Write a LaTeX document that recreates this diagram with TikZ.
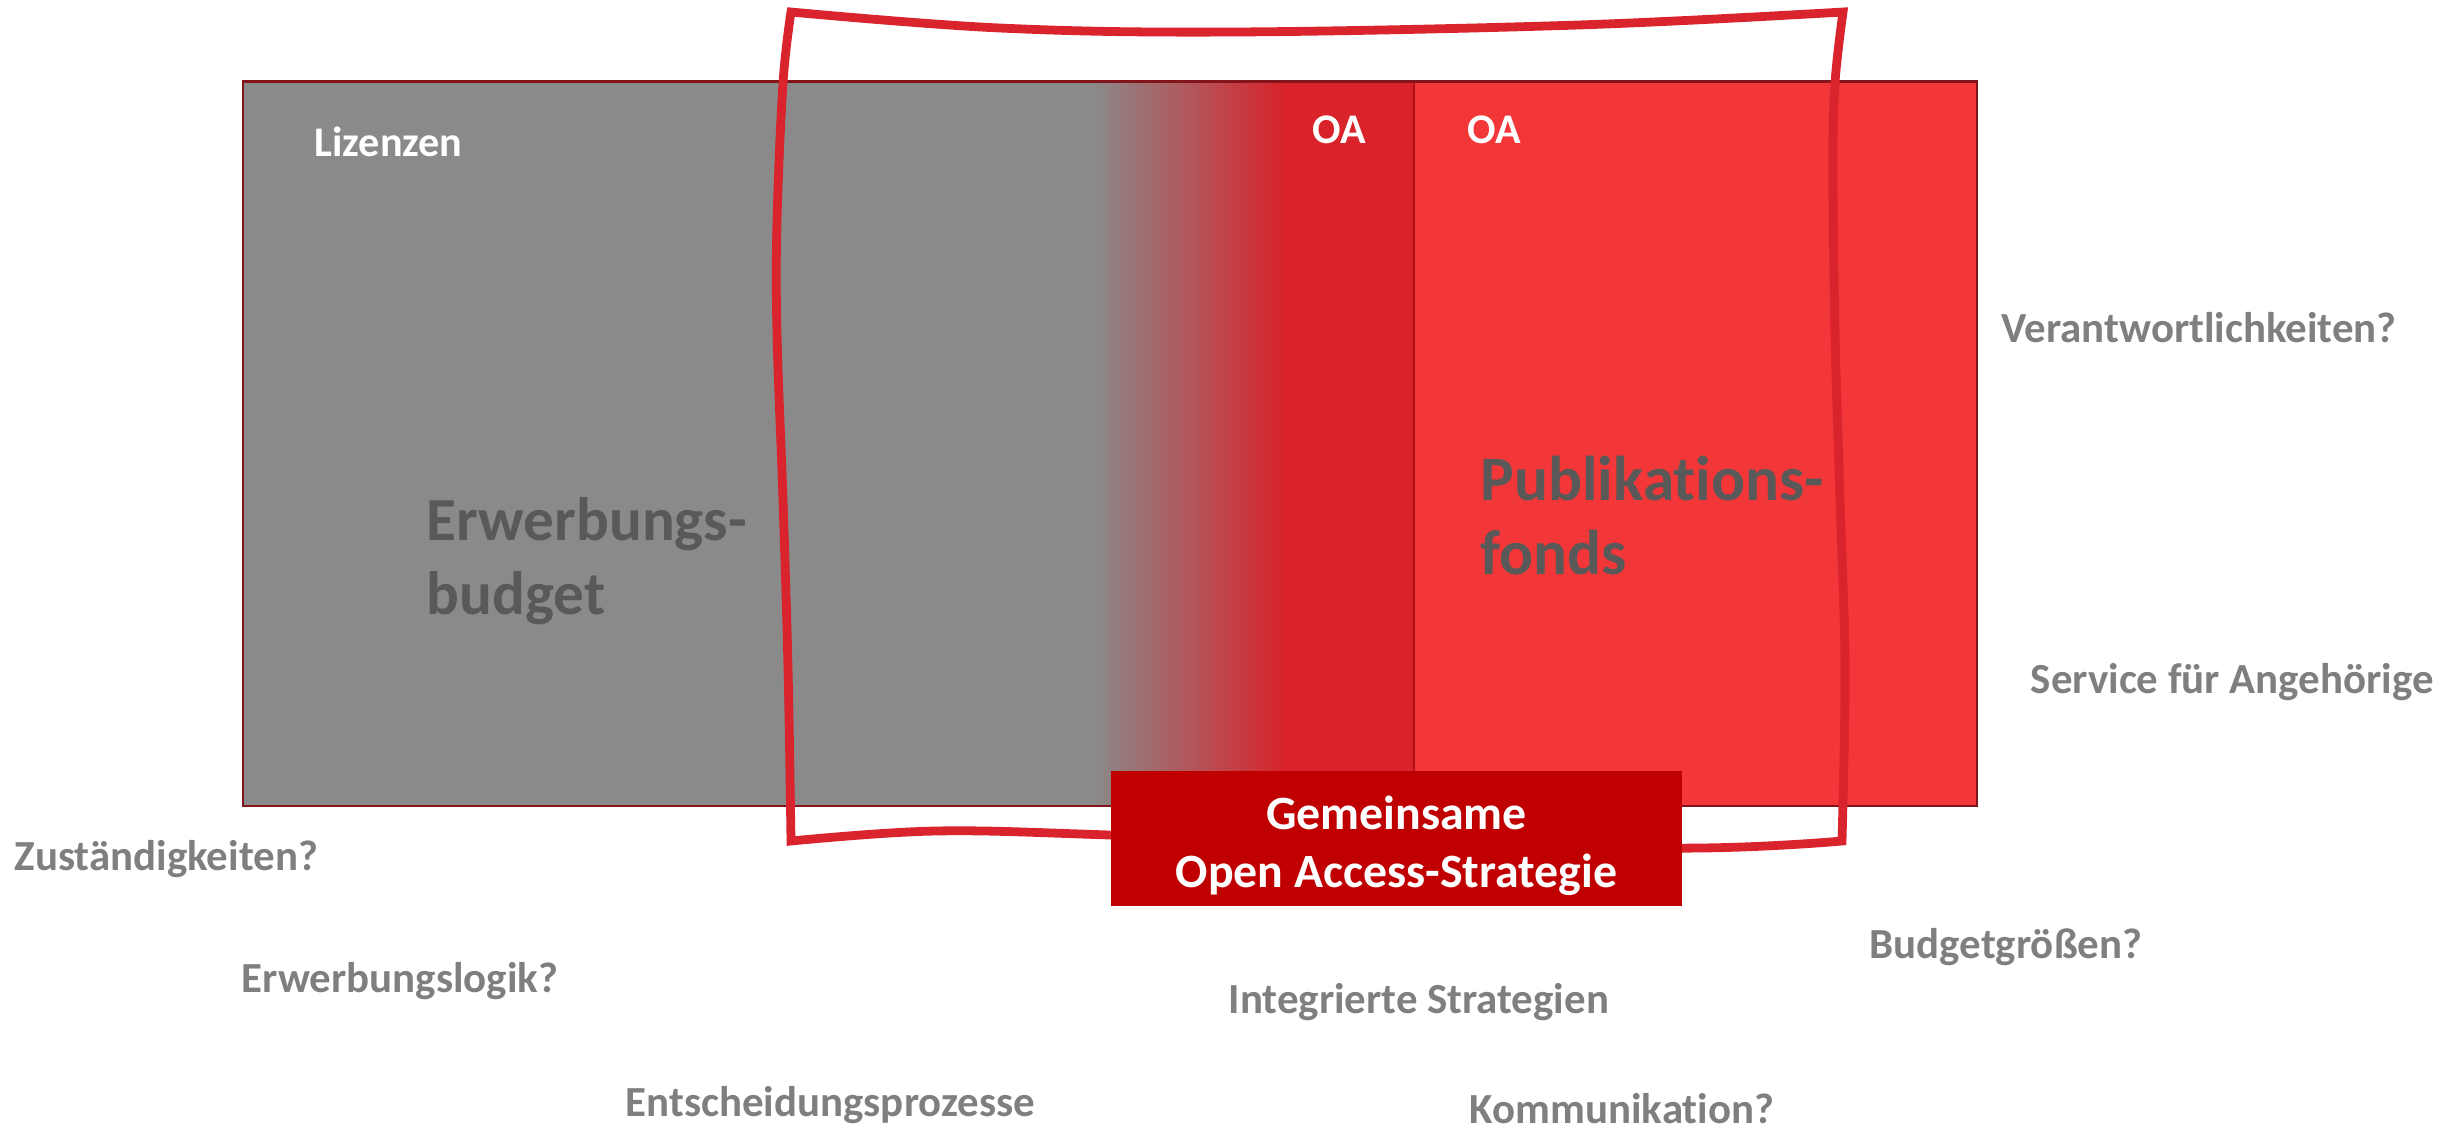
\documentclass[tikz,border=0pt]{standalone}
\usepackage{fontspec}
\setmainfont{Carlito}[Ligatures={NoCommon}]
\definecolor{boxgray}{RGB}{138,138,138}
\definecolor{oadark}{RGB}{217,34,42}
\definecolor{fondred}{RGB}{243,54,56}
\definecolor{stratred}{RGB}{192,0,0}
\definecolor{outlinered}{RGB}{217,35,45}
\definecolor{txtgray}{RGB}{127,127,127}
\definecolor{darktxt}{RGB}{89,89,89}
\definecolor{borderred}{RGB}{130,20,28}
\definecolor{dividerred}{RGB}{176,16,24}
\begin{document}
\begin{tikzpicture}[x=0.01cm,y=-0.01cm,
  qtext/.style={inner sep=0pt, anchor=base west, text=txtgray, font=\bfseries\fontsize{12.2pt}{14pt}\selectfont},
  wtext/.style={inner sep=0pt, anchor=base west, text=white, font=\bfseries\fontsize{12pt}{14pt}\selectfont},
  bigtext/.style={inner sep=0pt, anchor=base west, text=darktxt, font=\bfseries\fontsize{17.4pt}{21pt}\selectfont},
  bigtextb/.style={bigtext, font=\bfseries\fontsize{18pt}{21pt}\selectfont},
  stratbox/.style={fill=stratred, minimum width=5.71cm, minimum height=1.35cm, inner sep=0pt},
  strattext/.style={text=white, inner sep=0pt, align=center, font=\bfseries\fontsize{13.6pt}{16.4pt}\selectfont},
  outline/.style={draw=outlinered, line width=2.5pt, line join=miter},
  boxborder/.style={draw=borderred, line width=0.6pt},
  divider/.style={draw=dividerred, line width=0.6pt}]
\useasboundingbox (0,0) rectangle (2459,1129);
% main box
\fill[boxgray] (243,81.5) rectangle (1093,806);
\shade[left color=boxgray, right color=oadark] (1092,81.5) rectangle (1287,806);
\fill[oadark] (1286,81.5) rectangle (1414,806);
\fill[fondred] (1414,81.5) rectangle (1977,806);
\coordinate (divtop) at (1414,81.5);
\coordinate (divbot) at (1414,806);
\draw[divider] (divtop) -- (divbot);
\draw[boxborder] (243,81.5) rectangle (1977,806);
% labels inside box
\node[wtext] (liz) at (314,156) {Lizenzen};
\node[wtext] (oa1) at (1312,143) {OA};
\node[wtext] (oa2) at (1467,143) {OA};
\node[bigtext] (erw1) at (426,540) {Erwerbungs-};
\node[bigtext] (erw2) at (426,614) {budget};
\node[bigtextb] (pub1) at (1480,500) {Publikations-};
\node[bigtextb] (pub2) at (1480,574) {fonds};
% freehand outline
\draw[outline]
  plot[smooth,tension=0.6] coordinates {(791,12) (1000,28) (1233,32) (1578,25) (1843,12)}
  -- plot[smooth,tension=0.6] coordinates {(1843,12) (1835,83) (1833,167) (1835,333) (1840,500) (1845,667) (1842,841)}
  -- plot[smooth,tension=0.6] coordinates {(1842,841) (1700,848) (1400,846) (1110,835) (935,831) (791,841)}
  -- plot[smooth,tension=0.6] coordinates {(791,841) (788,667) (783,500) (777,333) (777,222) (783,83) (791,12)}
  -- cycle;
% strategy box
\node[stratbox] (strat) at (1396.5,838.5) {};
\node[strattext] (strtxt) at (1396.5,846) {Gemeinsame\\Open Access-Strategie};
% questions
\node[qtext] (q1) at (2001,342) {Verantwortlichkeiten?};
\node[qtext] (q2) at (2030,693) {Service für Angehörige};
\node[qtext] (q3) at (14,870) {Zuständigkeiten?};
\node[qtext] (q4) at (241,992) {Erwerbungslogik?};
\node[qtext] (q5) at (625,1116) {Entscheidungsprozesse};
\node[qtext] (q6) at (1228,1013) {Integrierte Strategien};
\node[qtext] (q7) at (1869,958) {Budgetgrößen?};
\node[qtext] (q8) at (1469,1123) {Kommunikation?};
\end{tikzpicture}
\end{document}
